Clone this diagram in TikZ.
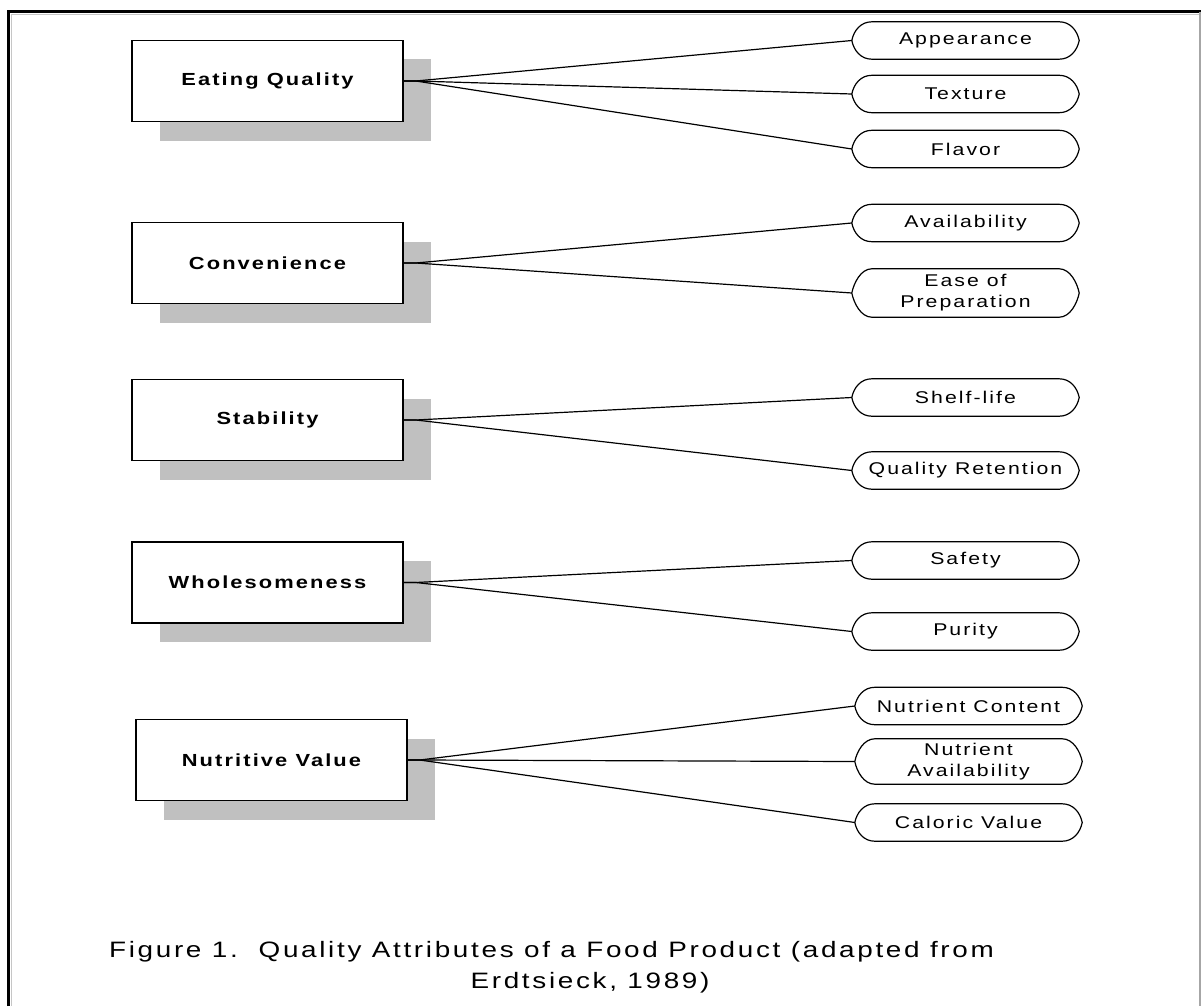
\documentclass[tikz,border=0pt]{standalone}
\usepackage{fontspec}
\setmainfont{Liberation Sans}[FakeStretch=1.25, LetterSpace=12]
\usepackage{tikz}
\usetikzlibrary{shadows}
\usepackage{xcolor}
\definecolor{shadegray}{RGB}{192,192,192}
\newcommand\attrshape[1]{%
  \draw[line width=1.2pt] (#1.west) .. controls +(2,-10) and +(-11,0) .. ([xshift=20pt]#1.north west)
    -- ([xshift=-20pt]#1.north east) .. controls +(11,0) and +(-2,-10) .. (#1.east)
    .. controls +(-2,10) and +(11,0) .. ([xshift=-20pt]#1.south east)
    -- ([xshift=20pt]#1.south west) .. controls +(-11,0) and +(2,10) .. (#1.west);}

\begin{document}
\begin{tikzpicture}[x=1pt,y=-1pt,
  group/.style={draw, line width=1.6pt, fill=white, minimum width=271pt, minimum height=81pt,
    font=\fontsize{17.5}{22}\selectfont\bfseries,
    drop shadow={shadow xshift=28pt, shadow yshift=-19pt, fill=shadegray, opacity=1}},
  attr/.style={minimum width=227pt, minimum height=37pt, inner sep=0pt, align=center,
    font=\fontsize{17}{21}\selectfont},
  link/.style={line width=1.2pt},
  captext/.style={anchor=base, inner sep=0pt, font=\fontsize{22.3}{30}\selectfont}]
\useasboundingbox (0,0) rectangle (1201,1006);
\draw[gray!45, line width=1pt] (11,1006) -- (11,14.5) -- (1201,14.5);
\draw[line width=3pt] (8.5,1006) -- (8.5,12) -- (1201,12);
\draw[gray!70, line width=2pt] (1199.5,12) -- (1199.5,1006);

\node[group] (eq)    at (267.5,81)  {Eating Quality};
\node[group] (conv)  at (267.5,263) {Convenience};
\node[group] (stab)  at (267.5,420) {Stability};
\node[group] (whole) at (267.5,582.5) {Wholesomeness};
\node[group] (nutr)  at (271.5,760) {Nutritive Value};

\node[attr] (app)    at (965.5,40.5)  {Appearance};
\node[attr] (tex)    at (965.5,94)    {Texture};
\node[attr] (fla)    at (965.5,149)   {Flavor};
\node[attr] (avail)  at (965.5,223)   {Availability};
\node[attr, minimum height=48pt] (ease) at (965.5,293) {Ease of\\Preparation};
\node[attr] (shelf)  at (965.5,397.5) {Shelf-life};
\node[attr] (ret)    at (965.5,470.5) {Quality Retention};
\node[attr] (safe)   at (965.5,560.5) {Safety};
\node[attr] (pure)   at (965.5,631.5) {Purity};
\node[attr] (cont)   at (968.5,706)   {Nutrient Content};
\node[attr, minimum height=45pt] (navail) at (968.5,761.5) {Nutrient\\Availability};
\node[attr] (cal)    at (968.5,822.5) {Caloric Value};

\foreach \a in {app,tex,fla,avail,ease,shelf,ret,safe,pure,cont,navail,cal}
  \attrshape{\a};
\foreach \g/\a in {eq/app,eq/tex,eq/fla,conv/avail,conv/ease,stab/shelf,stab/ret,
    whole/safe,whole/pure,nutr/cont,nutr/navail,nutr/cal}
  \draw[link] (\g.east) -- ++(12,0) -- (\a.west);

\node[captext] (cap1) at (551.5,957) {Figure 1.\ \ Quality Attributes of a Food Product (adapted from};
\node[captext] (cap2) at (590,988) {Erdtsieck, 1989)};
\end{tikzpicture}
\end{document}
